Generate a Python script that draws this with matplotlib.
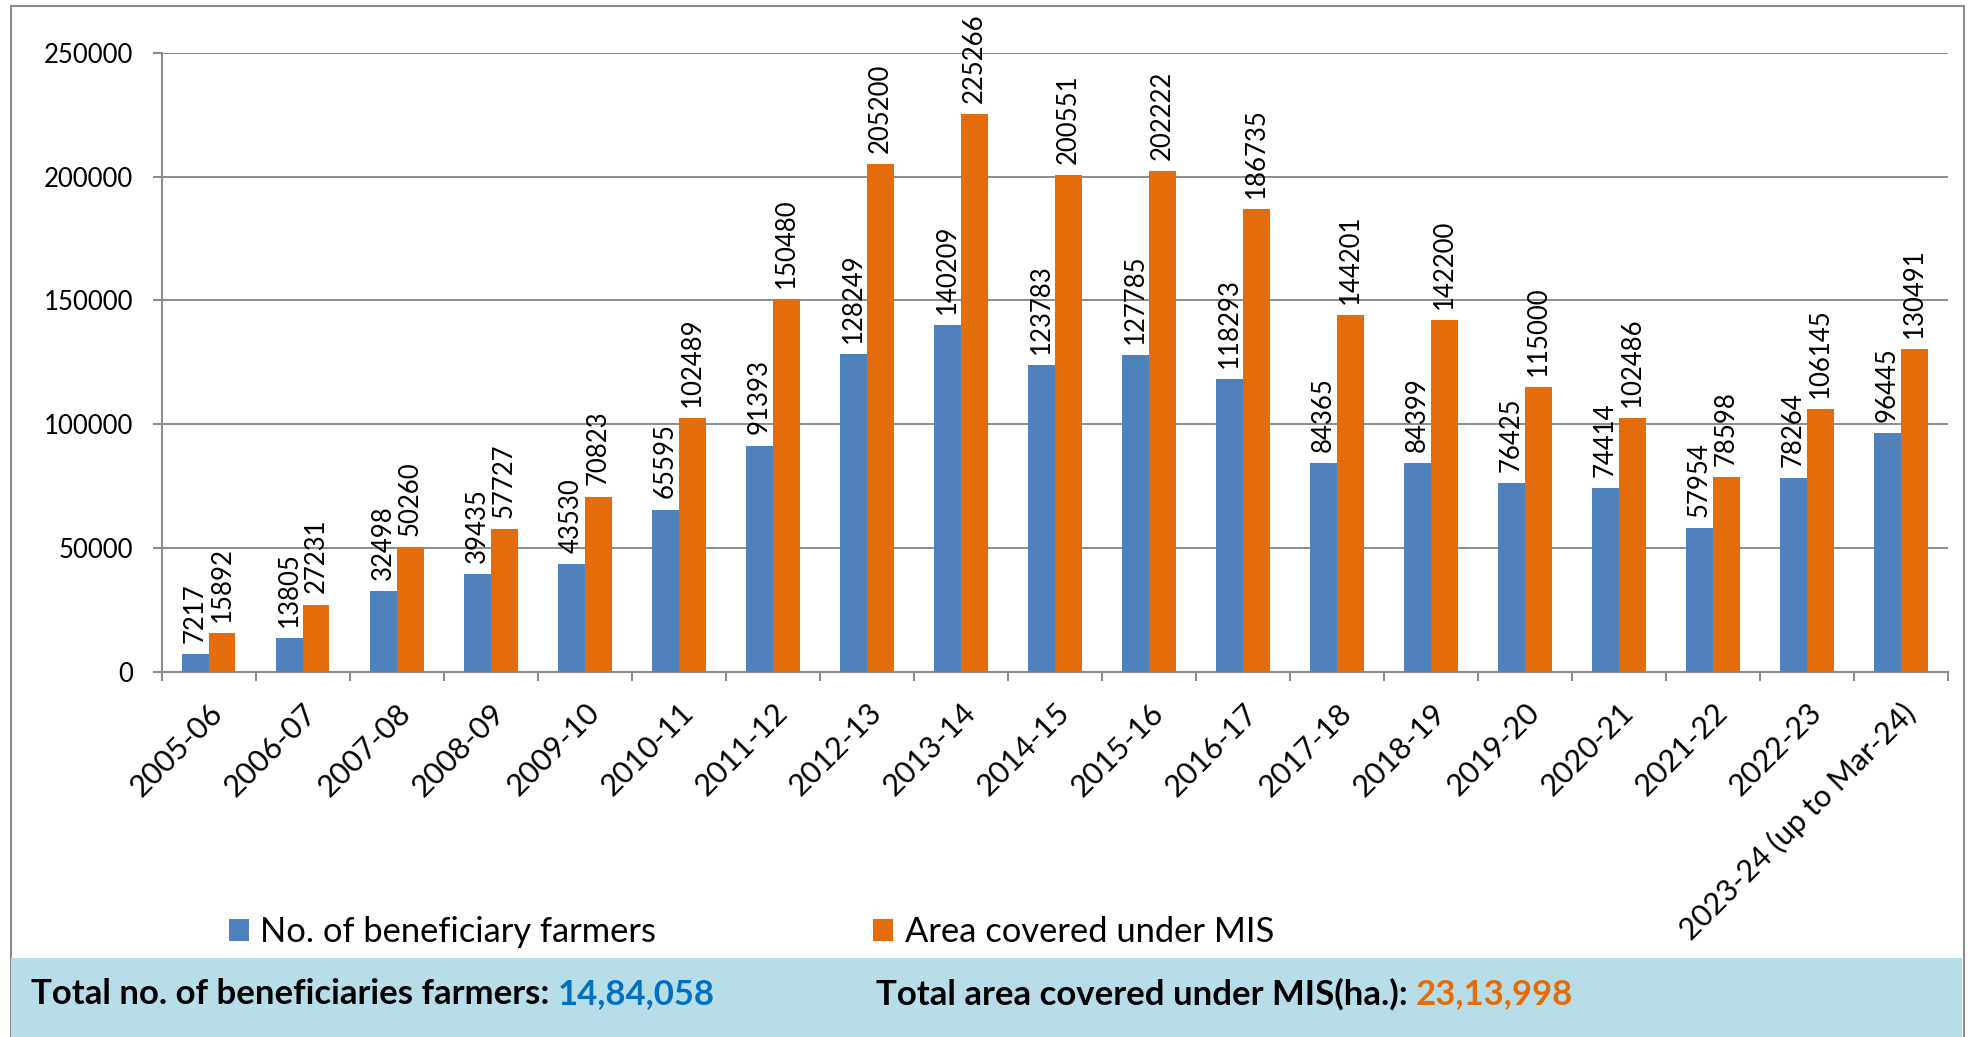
import matplotlib
matplotlib.use('Agg')
import matplotlib.pyplot as plt
from matplotlib.patches import Rectangle
import numpy as np

years = ['2005-06', '2006-07', '2007-08', '2008-09', '2009-10', '2010-11', '2011-12',
         '2012-13', '2013-14', '2014-15', '2015-16', '2016-17', '2017-18', '2018-19',
         '2019-20', '2020-21', '2021-22', '2022-23', '2023-24 (up to Mar-24)']
farmers = [7217, 13805, 32498, 39435, 43530, 65595, 91393, 128249, 140209, 123783,
           127785, 118293, 84365, 84399, 76425, 74414, 57954, 78264, 96445]
area = [15892, 27231, 50260, 57727, 70823, 102489, 150480, 205200, 225266, 200551,
        202222, 186735, 144201, 142200, 115000, 102486, 78598, 106145, 130491]
series_names = ['No. of beneficiary farmers', 'Area covered under MIS']
total_farmers_label = 'Total no. of beneficiaries farmers:'
total_farmers = '14,84,058'
total_area_label = 'Total area covered under MIS(ha.):'
total_area = '23,13,998'

plt.rcParams['font.family'] = ['Lato', 'DejaVu Sans']
GREY = '#8c8c8c'
W, H = 1971, 1037

fig = plt.figure(figsize=(W / 100, H / 100), dpi=100)
ax = fig.add_axes([161.6 / W, 1 - 672 / H, (1948 - 161.6) / W, (672 - 52.7) / H])

x = np.arange(len(years))
w = 0.2857
b1 = ax.bar(x - w / 2, farmers, w, color='#4f81bd', label=series_names[0], zorder=3)
b2 = ax.bar(x + w / 2, area, w, color='#e46c0a', label=series_names[1], zorder=3)
ax.bar_label(b1, rotation=90, padding=8, fontsize=18.5)
ax.bar_label(b2, rotation=90, padding=8, fontsize=18.5)

ax.set_xlim(-0.5, len(years) - 0.5)
ax.set_ylim(0, 250000)
ax.set_yticks(range(0, 250001, 50000))
ax.yaxis.grid(True, color=GREY, lw=1.4)
ax.set_axisbelow(True)
for s in ['top', 'right']:
    ax.spines[s].set_visible(False)
for s in ['left', 'bottom']:
    ax.spines[s].set_color(GREY)
    ax.spines[s].set_linewidth(1.5)

ax.set_xticks(x)
ax.set_xticklabels(years, rotation=45, ha='right', rotation_mode='anchor', fontsize=22)
ax.set_xticks(np.arange(-0.5, len(years), 1), minor=True)
ax.tick_params(axis='x', which='major', length=0, pad=19)
ax.tick_params(axis='x', which='minor', length=6.5, width=1.5, color=GREY)
ax.tick_params(axis='y', length=6.5, width=1.5, color=GREY, pad=14, labelsize=18.5)

# chart border and footer band
fig.add_artist(Rectangle((11 / W, -0.01), (1964 - 11) / W, 1.01 - 6 / H,
                         transform=fig.transFigure, fill=False, ec=GREY, lw=1.5))
fig.add_artist(Rectangle((11 / W, 0), (1962 - 11) / W, (H - 958) / H,
                         transform=fig.transFigure, fc='#b7dde8', ec='none', zorder=5))

fig.legend(handles=[b1, b2], labels=series_names, loc='center left',
           bbox_to_anchor=(229 / W, 1 - 932 / H), ncol=2, frameon=False, fontsize=24.8,
           handlelength=0.58, handleheight=0.58, handletextpad=0.33, columnspacing=6.3,
           borderpad=0, borderaxespad=0)

ty = 1 - 994 / H
t1 = fig.text(31 / W, ty, total_farmers_label, fontweight='bold', fontsize=25,
              va='center', zorder=6)
t2 = fig.text(876 / W, ty, total_area_label, fontweight='bold', fontsize=25,
              va='center', zorder=6)
fig.canvas.draw()
r = fig.canvas.get_renderer()
fig.text(t1.get_window_extent(r).x1 / W + 8 / W, ty, total_farmers, fontweight='bold',
         fontsize=25, va='center', color='#0070c0', zorder=6)
fig.text(t2.get_window_extent(r).x1 / W + 8 / W, ty, total_area, fontweight='bold',
         fontsize=25, va='center', color='#e36c09', zorder=6)

fig.savefig('out.png', dpi=100)
